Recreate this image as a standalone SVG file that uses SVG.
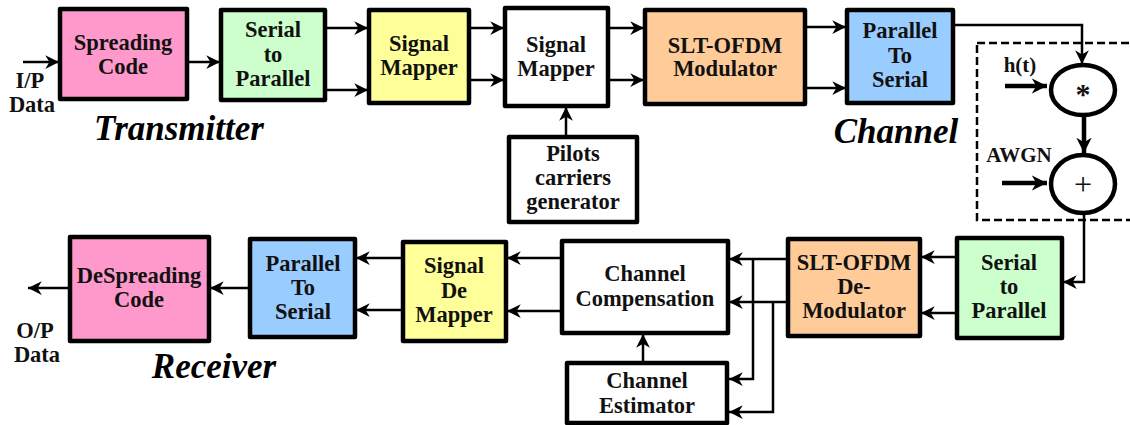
<svg xmlns="http://www.w3.org/2000/svg" width="1130" height="425" viewBox="0 0 1130 425">
<style>
.box{stroke:#000;stroke-width:4.5;stroke-linejoin:round}
.t{font-family:'Liberation Serif','DejaVu Serif',serif;font-weight:bold;font-size:22.5px;text-anchor:middle;fill:#111}
.big{font-family:'Liberation Serif','DejaVu Serif',serif;font-weight:bold;font-style:italic;font-size:35px;text-anchor:middle;fill:#000}
.w{stroke:#000;stroke-width:2.5;fill:none}
.th{stroke:#000;stroke-width:4.5;fill:none}
</style>
<defs>
<marker id="a" viewBox="0 0 10 10" refX="10" refY="5" markerWidth="5.5" markerHeight="5.5" markerUnits="strokeWidth" orient="auto">
<path d="M0,0 L10,5 L0,10 L3,5 z" fill="#000"/>
</marker>
<marker id="b" viewBox="0 0 10 10" refX="10" refY="5" markerWidth="3.4" markerHeight="3.4" markerUnits="strokeWidth" orient="auto">
<path d="M0,0 L10,5 L0,10 L3,5 z" fill="#000"/>
</marker>
</defs>
<rect width="1130" height="425" fill="#fff"/>

<g id="connectors">
<path class="w" d="M23,62 H59" marker-end="url(#a)"/>
<path class="w" d="M187,62 H220" marker-end="url(#a)"/>
<path class="w" d="M325,28 H368" marker-end="url(#a)"/>
<path class="w" d="M325,90 H368" marker-end="url(#a)"/>
<path class="w" d="M469,28 H504" marker-end="url(#a)"/>
<path class="w" d="M469,80 H504" marker-end="url(#a)"/>
<path class="w" d="M608,28 H644" marker-end="url(#a)"/>
<path class="w" d="M608,80 H644" marker-end="url(#a)"/>
<path class="w" d="M805,27 H846" marker-end="url(#a)"/>
<path class="w" d="M805,88 H846" marker-end="url(#a)"/>
<path class="w" d="M566,137 V107" marker-end="url(#a)"/>
<path class="w" d="M953,25 H1082 V64" marker-end="url(#a)"/>
<path class="th" d="M1005,86 H1047" marker-end="url(#b)"/>
<path class="th" d="M1002,183 H1047" marker-end="url(#b)"/>
<path class="th" d="M1084,117 V153" marker-end="url(#b)"/>
<path class="w" d="M1084,214 V282 H1063" marker-end="url(#a)"/>
<path class="w" d="M957,257 H921" marker-end="url(#a)"/>
<path class="w" d="M957,313 H921" marker-end="url(#a)"/>
<path class="w" d="M788,259 H729" marker-end="url(#a)"/>
<path class="w" d="M788,302 H729" marker-end="url(#a)"/>
<path class="w" d="M753,259 V379 H729" marker-end="url(#a)"/>
<path class="w" d="M773,302 V412 H729" marker-end="url(#a)"/>
<path class="w" d="M643,363 V334" marker-end="url(#a)"/>
<path class="w" d="M562,258 H507" marker-end="url(#a)"/>
<path class="w" d="M562,311 H507" marker-end="url(#a)"/>
<path class="w" d="M403,258 H356" marker-end="url(#a)"/>
<path class="w" d="M403,310 H356" marker-end="url(#a)"/>
<path class="w" d="M250,288 H210" marker-end="url(#a)"/>
<path class="w" d="M70,288 H28" marker-end="url(#a)"/>
</g>

<g id="spreading">
<rect class="box" x="60" y="9" width="127" height="90" fill="#FF99CC"/>
<text class="t" x="123" y="50">Spreading</text>
<text class="t" x="123" y="74">Code</text>
</g>
<g id="s2p-tx">
<rect class="box" x="221" y="10" width="104" height="90" fill="#CCFFCC"/>
<text class="t" x="273" y="37">Serial</text>
<text class="t" x="273" y="62">to</text>
<text class="t" x="273" y="86">Parallel</text>
</g>
<g id="mapper1">
<rect class="box" x="369" y="10" width="100" height="93" fill="#FFFF99"/>
<text class="t" x="419" y="51">Signal</text>
<text class="t" x="419" y="75">Mapper</text>
</g>
<g id="mapper2">
<rect class="box" x="505" y="8" width="103" height="98" fill="#fff"/>
<text class="t" x="556" y="52">Signal</text>
<text class="t" x="556" y="76">Mapper</text>
</g>
<g id="pilots">
<rect class="box" x="509" y="137" width="128" height="85" fill="#fff"/>
<text class="t" x="573" y="161">Pilots</text>
<text class="t" x="573" y="185">carriers</text>
<text class="t" x="573" y="209">generator</text>
</g>
<g id="modulator">
<rect class="box" x="645" y="10" width="160" height="94" fill="#FFCC99"/>
<text class="t" x="725" y="53">SLT-OFDM</text>
<text class="t" x="725" y="76">Modulator</text>
</g>
<g id="p2s-tx">
<rect class="box" x="847" y="10" width="106" height="93" fill="#99CCFF"/>
<text class="t" x="900" y="38">Parallel</text>
<text class="t" x="900" y="63">To</text>
<text class="t" x="900" y="87">Serial</text>
</g>
<g id="channel">
<rect x="977" y="43" width="170" height="177" fill="none" stroke="#000" stroke-width="2.5" stroke-dasharray="8,4"/>
<ellipse id="conv" cx="1083" cy="90" rx="32" ry="25" fill="#fff" stroke="#000" stroke-width="4.5"/>
<text class="t" x="1083" y="104" style="font-size:30px">*</text>
<ellipse id="add" cx="1083" cy="184" rx="32" ry="29" fill="#fff" stroke="#000" stroke-width="4.5"/>
<text class="t" x="1083" y="195" style="font-size:32px;font-weight:normal">+</text>
<text class="t" x="1020" y="72" style="font-size:21px">h(t)</text>
<text class="t" x="1019" y="162" style="font-size:21px">AWGN</text>
</g>
<g id="s2p-rx">
<rect class="box" x="957" y="238" width="105" height="100" fill="#CCFFCC"/>
<text class="t" x="1009" y="270">Serial</text>
<text class="t" x="1009" y="294">to</text>
<text class="t" x="1009" y="318">Parallel</text>
</g>
<g id="demod">
<rect class="box" x="788" y="239" width="132" height="97" fill="#FFCC99"/>
<text class="t" x="854" y="270">SLT-OFDM</text>
<text class="t" x="854" y="294">De-</text>
<text class="t" x="854" y="318">Modulator</text>
</g>
<g id="compensation">
<rect class="box" x="562" y="241" width="166" height="92" fill="#fff"/>
<text class="t" x="645" y="281">Channel</text>
<text class="t" x="645" y="306">Compensation</text>
</g>
<g id="estimator">
<rect class="box" x="567" y="363" width="160" height="60" fill="#fff"/>
<text class="t" x="647" y="388">Channel</text>
<text class="t" x="647" y="413">Estimator</text>
</g>
<g id="demapper">
<rect class="box" x="403" y="242" width="103" height="99" fill="#FFFF99"/>
<text class="t" x="454" y="273">Signal</text>
<text class="t" x="454" y="298">De</text>
<text class="t" x="454" y="322">Mapper</text>
</g>
<g id="p2s-rx">
<rect class="box" x="250" y="239" width="105" height="98" fill="#99CCFF"/>
<text class="t" x="303" y="271">Parallel</text>
<text class="t" x="303" y="295">To</text>
<text class="t" x="303" y="319">Serial</text>
</g>
<g id="despreading">
<rect class="box" x="70" y="237" width="139" height="104" fill="#FF99CC"/>
<text class="t" x="139" y="283">DeSpreading</text>
<text class="t" x="139" y="307">Code</text>
</g>

<g id="labels">
<text class="t" x="30" y="88">I/P</text>
<text class="t" x="32" y="112">Data</text>
<text class="t" x="35" y="338">O/P</text>
<text class="t" x="37" y="362">Data</text>
<text class="big" x="179" y="140">Transmitter</text>
<text class="big" x="896" y="143">Channel</text>
<text class="big" x="214" y="378">Receiver</text>
</g>
</svg>
